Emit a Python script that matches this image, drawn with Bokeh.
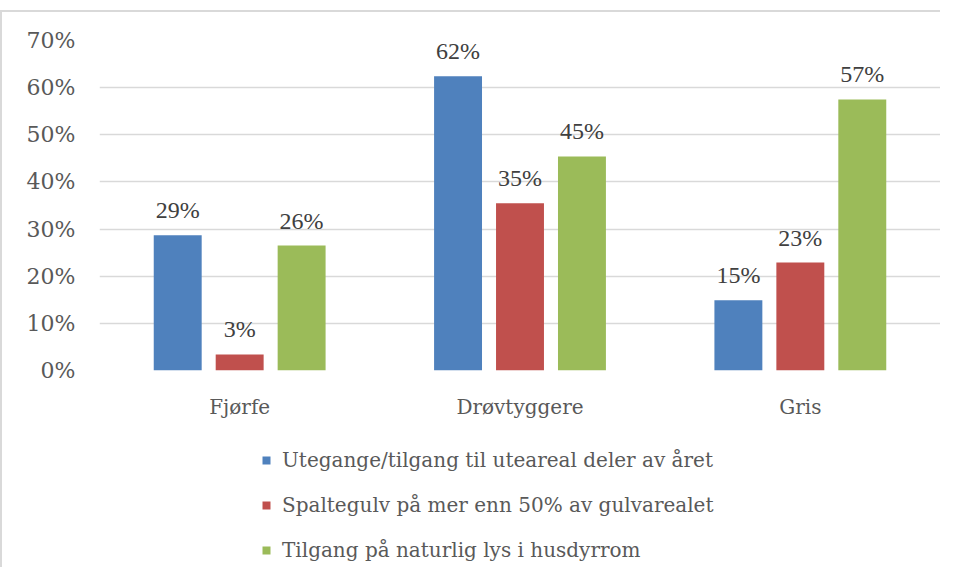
from bokeh.plotting import figure
from bokeh.models import ColumnDataSource, FactorRange, Legend, LegendItem, LabelSet, FixedTicker, CustomJSTickFormatter, Range1d
from bokeh.layouts import column
from bokeh.transform import dodge
from bokeh.embed import file_html
from bokeh.resources import INLINE

categories = ["Fjørfe", "Drøvtyggere", "Gris"]
series_names = [
    "Utegange/tilgang til uteareal deler av året",
    "Spaltegulv på mer enn 50% av gulvarealet",
    "Tilgang på naturlig lys i husdyrrom",
]
utegange = [28.7, 62.4, 14.9]
spaltegulv = [3.4, 35.5, 22.9]
lys = [26.5, 45.4, 57.5]
value_labels_u = ["29%", "62%", "15%"]
value_labels_s = ["3%", "35%", "23%"]
value_labels_l = ["26%", "45%", "57%"]
y_ticks = [0, 10, 20, 30, 40, 50, 60, 70]

colors = ["#4F81BD", "#C0504D", "#9BBB59"]
FONT = "DejaVu Serif"
FS = "20px"

src = ColumnDataSource(dict(cat=categories, u=utegange, s=spaltegulv, l=lys,
                            lu=value_labels_u, ls=value_labels_s, ll=value_labels_l))

p = figure(x_range=FactorRange(*categories), y_range=Range1d(0, 70),
           width=940, height=417, output_backend="svg", toolbar_location=None,
           min_border_top=28, min_border_left=97, min_border_right=2, min_border_bottom=59)
p.styles = {"border-left": "2px solid #d9d9d9", "border-top": "2px solid #d9d9d9"}
p.outline_line_color = None
p.xgrid.grid_line_color = None
p.ygrid.grid_line_color = "#d9d9d9"
p.ygrid.grid_line_width = 1.5
p.yaxis.ticker = FixedTicker(ticks=y_ticks)
p.yaxis.formatter = CustomJSTickFormatter(code="return tick + '%';")
for ax in (p.xaxis, p.yaxis):
    ax.axis_line_color = None
    ax.major_tick_line_color = None
    ax.minor_tick_line_color = None
    ax.major_tick_out = 0
    ax.major_tick_in = 0
    ax.major_label_text_font = FONT
    ax.major_label_text_font_size = FS
    ax.major_label_text_color = "#595959"
p.yaxis.major_label_text_font_size = "22px"
p.yaxis.major_label_standoff = 24
p.xaxis.major_label_standoff = 24

offsets = [-0.221, 0.0, 0.221]
keys = ["u", "s", "l"]
lkeys = ["lu", "ls", "ll"]
renderers = []
for off, k, lk, c in zip(offsets, keys, lkeys, colors):
    r = p.vbar(x=dodge("cat", off, range=p.x_range), top=k, width=0.171, source=src,
               fill_color=c, line_color=None)
    renderers.append(r)
    lab = LabelSet(x=dodge("cat", off, range=p.x_range), y=k, text=lk, source=src,
                   text_align="center", text_baseline="alphabetic", y_offset=17,
                   text_font=FONT, text_font_size="24px", text_color="#404040")
    p.add_layout(lab)

# legend-only panel
q = figure(width=940, height=140, output_backend="svg", toolbar_location=None,
           x_range=Range1d(0, 1), y_range=Range1d(0, 1),
           min_border=0, min_border_left=0, min_border_right=0, min_border_top=0, min_border_bottom=0)
q.styles = {"border-left": "2px solid #d9d9d9"}
q.axis.visible = False
q.grid.visible = False
q.outline_line_color = None
leg_renderers = []
for c in colors:
    leg_renderers.append(q.vbar(x=[0.5], top=[0], bottom=[0], width=0, fill_color=c, line_color=None))
legend = Legend(items=[LegendItem(label=n, renderers=[r]) for n, r in zip(series_names, leg_renderers)],
                location=(162, 5), orientation="vertical",
                glyph_width=10, glyph_height=10, label_standoff=11, spacing=21, label_height=24,
                padding=0, margin=0, border_line_color=None, background_fill_alpha=0,
                label_text_font=FONT, label_text_font_size=FS, label_text_color="#595959")
q.add_layout(legend)

layout = column(p, q, spacing=0)
layout.styles = {"margin-top": "10px"}
open("out.html", "w").write(file_html(layout, INLINE))
